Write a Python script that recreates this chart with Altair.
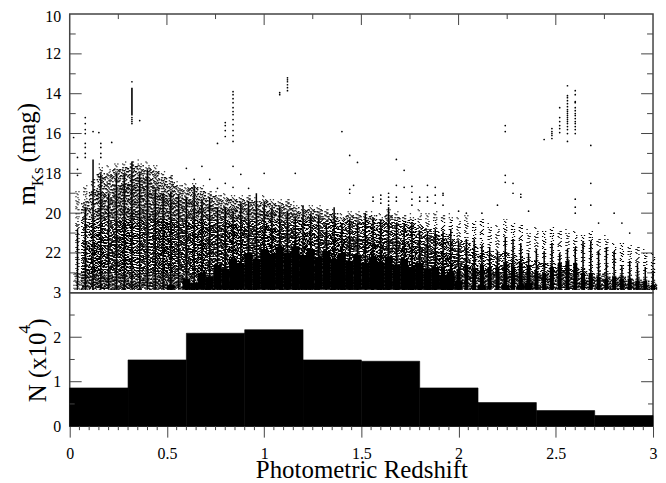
import altair as alt
import pandas as pd

# Photometric-redshift columns (redshifts fall on a discrete grid)
col_z = [round(0.04 * k, 2) for k in range(1, 76)]
haze_top = [18.9,18.6,18.3,17.5,17.6,17.5,17.4,17.4,17.3,17.4,
            17.6,17.9,18.1,18.4,18.5,18.5,18.6,18.9,18.9,19.0,
            19.1,19.1,19.1,19.2,19.1,19.3,19.3,19.3,19.4,19.6,
            19.6,19.6,19.8,19.8,20.0,19.9,19.9,19.9,19.9,20.0,
            19.8,19.9,20.1,20.0,19.8,20.0,19.9,20.1,20.0,20.2,
            20.1,20.4,20.3,20.5,20.6,20.3,20.5,20.6,20.8,20.7,
            20.9,20.7,20.9,20.8,20.9,21.1,20.9,21.3,21.1,21.5,
            21.5,21.6,21.7,21.8,22.0]
outer_top = [23.85,19.4,18.8,18.0,18.0,17.8,17.7,17.6,17.6,17.7,
             17.9,18.2,18.4,18.6,18.7,18.7,18.9,19.1,19.1,19.2,
             19.3,19.3,19.3,19.4,19.3,19.5,19.5,19.5,19.7,19.8,
             19.8,19.8,20.0,20.0,20.2,20.1,20.1,20.2,20.1,20.3,
             20.1,20.2,20.4,20.3,20.6,20.8,20.9,21.0,21.1,21.3,
             21.5,21.7,21.9,21.9,22.0,22.0,22.1,22.2,22.4,22.4,
             22.5,22.5,22.6,22.6,22.7,22.9,23.0,23.1,23.0,23.2,
             23.2,23.3,23.3,23.4,23.5]
stem_top = [20.8,19.7,17.3,18.0,19.0,18.0,18.0,17.4,18.0,17.8,
            18.8,19.0,18.9,19.1,19.2,18.6,19.3,19.2,19.7,19.7,
            19.9,19.5,19.4,19.0,19.4,19.7,19.7,19.9,20.2,19.6,
            20.0,20.1,20.6,19.7,20.6,20.3,20.5,20.0,20.2,20.3,
            19.7,20.5,20.5,20.5,20.9,20.9,20.8,20.9,20.8,21.4,
            21.3,21.3,21.6,21.7,21.9,21.2,21.3,21.5,22.0,21.8,
            21.9,21.5,22.0,21.8,21.7,21.4,21.4,21.9,21.7,21.9,
            22.6,22.4,22.5,22.7,22.9]
dense_top = [23.0,21.4,20.4,19.0,19.2,18.8,18.5,18.3,18.2,18.2,
             18.6,18.9,19.0,19.2,19.3,19.4,19.5,19.6,19.7,19.7,
             19.8,19.8,19.9,19.8,19.9,20.0,20.0,20.1,20.0,20.2,
             20.2,20.3,20.4,20.3,20.5,20.4,20.5,20.4,20.6,20.5,
             20.5,20.6,20.8,20.7,20.9,21.1,21.1,21.3,21.4,21.6,
             21.8,21.9,22.0,22.1,22.2,22.0,22.2,22.2,22.4,22.4,
             22.5,22.4,22.5,22.4,22.5,22.8,22.7,22.9,22.8,23.0,
             23.0,23.1,23.2,23.3,23.4]
outer_dense = dense_top[:50] + [22.4,22.6,22.7,22.8,22.9,22.6,22.8,22.9,23.0,23.0,
             23.1,22.9,22.9,22.8,23.0,23.5,23.3,23.5,23.3,23.5,
             23.5,23.5,23.6,23.6,23.7]
deep_top = [23.85,22.8,21.5,21.0,21.3,20.8,20.4,20.0,20.0,20.0,
            20.0,20.3,20.3,20.5,20.4,20.6,20.5,20.6,20.5,20.6,
            20.6,20.7,20.6,20.7,20.6,20.8,20.8,20.9,20.8,21.0,
            21.0,21.1,21.2,21.1,21.3,21.2,21.3,21.2,21.4,21.4,
            21.4,21.5,21.6,21.5,21.7,21.8,21.9,22.0,22.2,22.4,
            22.7,22.8,22.8,22.9,22.9,22.7,22.9,22.8,22.9,23.1,
            23.2,22.9,22.8,22.8,22.9,23.4,23.3,23.5,23.3,23.4,
            23.4,23.5,23.5,23.5,23.6]
solid_top = [23.85]*12 + [23.6,23.85,23.3,23.5,23.0,23.2,22.6,22.8,
             22.3,22.5,22.0,22.3,21.8,22.1,21.7,22.0,21.7,22.1,
             21.8,22.2,21.9,22.3,22.0,22.4,22.1,22.5,22.2,22.5,
             22.2,22.6,22.3,22.7,22.5,22.8,22.7,23.1,23.0,23.4,
             23.85,23.85,23.6,23.85,23.85,23.6,23.85,23.6,23.5,23.85] + [23.85]*15
core_top = [23.85]*40 + [22.8]*10 + [22.6,22.8,22.6,22.7,22.7,22.5,22.7,22.5,22.6,22.9,
            23.0,22.7,22.5,22.4,22.5,23.0,23.0,23.2,23.3,23.2,
            23.3,23.3,23.4,23.4,23.6]
col_bottom = [23.85] * 75

# Individually legible faint/bright points above the main locus
pt_z = [.02,.04,.04,.04,.08,.08,.08,.08,.08,.08,.08,.08,.12,.15,.16,.16,.16,.16,.216,
        .32,.32,.32,.32,.32,.36,
        .76,.80,.80,.80,.80,.84,.84,.84,.84,.84,.84,.84,.84,.84,.84,.84,.84,
        1.08,1.08,1.12,1.12,1.12,1.12,1.12,1.12,
        .52,.60,.64,.68,.72,.76,.80,.84,.84,.88,.92,1.0,1.16,
        1.40,1.44,1.44,1.46,1.44,1.48,1.68,1.72,1.68,1.72,1.76,1.76,1.84,1.88,1.92,1.92,
        1.56,1.56,1.60,1.60,1.60,1.64,1.64,1.64,1.64,1.68,1.68,1.76,1.76,1.80,1.80,1.84,1.84,1.88,1.88,1.92,
        2.00,2.04,2.12,2.20,2.24,2.24,2.24,2.24,2.28,2.28,2.32,2.32,2.36,
        2.44,2.48,2.48,2.48,2.48,2.48,2.52,2.52,2.52,2.52,2.52,2.52,
        2.56,2.56,2.56,2.56,2.56,2.56,2.56,2.56,2.56,2.56,2.56,2.56,2.56,2.56,2.56,2.56,2.56,2.56,
        2.60,2.60,2.60,2.60,2.60,2.60,2.60,2.60,2.60,2.60,2.60,2.60,2.60,2.60,
        2.68,2.68,2.68,2.72,2.80,2.84,2.88,2.60,2.60,2.60]
pt_m = [16.2,17.2,17.8,18.1,15.2,15.5,15.8,16.0,16.5,16.7,17.0,17.2,15.9,15.95,16.5,16.7,17.0,17.2,16.45,
        13.4,15.2,15.3,15.4,15.5,15.35,
        16.5,15.45,15.6,15.85,16.15,13.9,14.05,14.25,14.45,14.7,14.9,15.05,15.3,15.55,15.85,16.1,16.4,
        13.95,14.05,13.2,13.3,13.4,13.55,13.7,13.85,
        18.2,17.75,18.3,17.65,18.3,18.75,18.5,17.65,18.7,18.05,18.75,18.0,18.0,
        15.9,17.1,18.8,18.6,19.0,17.45,17.3,17.85,18.6,18.7,18.65,18.95,18.6,18.7,19.1,19.0,
        19.2,19.4,19.1,19.3,19.5,19.0,19.2,19.4,19.6,19.2,19.4,19.3,19.6,19.2,19.4,19.2,19.4,19.1,19.5,19.6,
        19.9,20.0,20.0,19.6,15.6,15.9,18.1,18.45,18.5,19.0,19.05,19.2,19.9,
        16.3,15.75,15.9,16.0,16.1,16.25,14.7,15.2,15.4,15.6,15.75,15.95,
        13.6,14.1,14.2,14.35,14.5,14.65,14.8,14.9,15.0,15.1,15.2,15.3,15.4,15.5,15.65,15.8,16.0,16.4,
        13.85,14.05,14.4,14.45,14.7,14.85,15.0,15.1,15.25,15.4,15.5,15.65,15.8,16.0,
        16.6,18.5,19.6,20.5,20.0,20.5,21.0,19.3,19.7,20.0]
# the one unbroken bright stripe
bright_z = [0.32]
bright_top = [13.7]
bright_bottom = [15.1]

hist_lo = [0,.3,.6,.9,1.2,1.5,1.8,2.1,2.4,2.7]
hist_hi = [.3,.6,.9,1.2,1.5,1.8,2.1,2.4,2.7,3.0]
hist_n = [.86,1.49,2.09,2.17,1.49,1.46,.86,.53,.35,.24]

x_major = [0,.5,1,1.5,2,2.5,3]
x_quarter = [.25,.75,1.25,1.75,2.25,2.75]
x_minor = [round(.05*k,2) for k in range(1,60) if k % 10 != 0]
m_major = [12,14,16,18,20,22]
m_minor = [11,13,15,17,19,21,23]
n_major = [1,2]
n_minor = [.5,1.5,2.5]

W, H1, H2 = 586, 280, 134
FONT = "Liberation Serif"
xs = alt.Scale(domain=[0,3], nice=False, zero=False)
ms = alt.Scale(domain=[10,24], reverse=True, nice=False, zero=False)
ns = alt.Scale(domain=[0,3], nice=False, zero=False)

AX_M = alt.Axis(values=[10,12,14,16,18,20,22], title=None, domain=False, ticks=False, labelFont=FONT, labelFontSize=16,
                labelColor="black", labelPadding=9, grid=False, labelOverlap=False, labelFlush=False,
                labelOffset=alt.expr("datum.value == 10 ? 2 : 0"))
AX_N = alt.Axis(values=[0,1,2,3], title=None, domain=False, ticks=False, labelFont=FONT, labelFontSize=16,
                labelColor="black", labelPadding=9, grid=False, labelOverlap=False, labelFlush=False)
AX_X = alt.Axis(values=x_major, format="~g", title="Photometric Redshift", titleFont=FONT, titleFontSize=25,
                titleFontWeight="normal", titleColor="black", titlePadding=-3, domain=False, tickSize=11, tickColor="#444",
                labelFont=FONT, labelFontSize=16, labelColor="black", labelPadding=8, grid=False, labelFlush=False)
X = alt.X("z:Q", scale=xs, axis=None)
XL = alt.X("z:Q", scale=xs, axis=AX_X)

SPARSE = {"a":[1,2,1,6,1,3,1,2,1,7], "b":[1,4,1,2,1,3,1,8,1,2], "c":[1,5,1,1,1,4,1,3],
          "d":[1,3,1,5,1,2,1,7,1,1], "e":[1,2,1,4,1,8,1,2,1,3]}
MEDIUM = {"a":[2,2,1,3,2,1,1,4,1,2], "b":[1,3,2,1,1,2,2,5,1,1], "c":[2,1,1,4,2,2,1,2],
          "d":[1,2,2,3,1,1,2,4,1,2], "e":[1,1,2,2,1,4,2,2,1,3]}
DENSE = {"a":[3,1,2,1,1,1,4,2,2,1], "b":[3,1,1,1,2,1,1,2,4,1], "c":[1,1,3,1,2,1,1,1],
         "d":[2,1,2,2,1,1,4,1], "e":[2,1,1,1,3,1,1,2,3,1]}
DEEP = {"a":[6,1,9,1,5,1,10,1], "b":[9,1,4,1,7,1,6,1], "c":[5,1,11,1,6,1,7,1],
        "d":[8,1,5,1,12,1,4,1], "e":[7,1,9,1,4,1,8,1]}
keys = list(SPARSE)
OFFSETS = [-3.5,-2.5,-1.5,-.5,.5,1.5,2.5,3.5]

def cols_for(i):
    return pd.DataFrame(dict(z=col_z, haze=haze_top, outer=outer_top, stem=stem_top, dense=dense_top,
                             odense=outer_dense, deep=deep_top,
                             solid=solid_top, core=core_top, bottom=col_bottom,
                             g=[keys[(k*(2 if i % 2 else 3) + i) % 5] for k in range(75)]))

Y = lambda f: alt.Y(f + ":Q", scale=ms, axis=AX_M)
Y2 = alt.Y2("bottom:Q")

def dash(tbl):
    return alt.StrokeDash("g:N", scale=alt.Scale(domain=keys, range=[tbl[k] for k in keys]), legend=None)

layers = []
for i, dx in enumerate(OFFSETS):
    base = alt.Chart(cols_for(i))
    rule = dict(strokeWidth=1.3, color="black", xOffset=dx, strokeDashOffset=2 + i * 3)
    layers.append(base.mark_rule(**rule).encode(x=X, y=Y("haze" if abs(dx) < 2 else "outer"), y2=Y2, strokeDash=dash(SPARSE)))
    layers.append(base.mark_rule(**rule).encode(x=X, y=Y("outer"), y2=Y2, strokeDash=dash(MEDIUM)))
    layers.append(base.mark_rule(**rule).encode(x=X, y=Y("dense" if abs(dx) < 2 else "odense"), y2=Y2, strokeDash=dash(DENSE)))
    layers.append(base.mark_rule(**rule).encode(x=X, y=Y("deep"), y2=Y2, strokeDash=dash(DEEP)))
base = alt.Chart(cols_for(0))
layers.append(base.mark_rule(strokeWidth=1.5, color="black").encode(x=X, y=Y("stem"), y2=Y2))
layers.append(base.mark_rule(strokeWidth=4, color="black").encode(x=X, y=Y("core"), y2=Y2))
layers.append(base.mark_rule(strokeWidth=8, color="black").encode(x=X, y=Y("solid"), y2=Y2))

pts = alt.Chart(pd.DataFrame(dict(z=pt_z, m=pt_m))).mark_circle(size=3, color="black", opacity=1).encode(x=X, y=Y("m"))
bright = alt.Chart(pd.DataFrame(dict(z=bright_z, a=bright_top, b=bright_bottom))).mark_rule(strokeWidth=1.6, color="black").encode(
    x=X, y=Y("a"), y2=alt.Y2("b:Q"))

TICK = "#444"
def xticks(vals, a, b, xenc):
    return alt.Chart(pd.DataFrame(dict(z=vals))).mark_rule(color=TICK, strokeWidth=1).encode(x=xenc, y=alt.value(a), y2=alt.value(b))
def yticks(vals, scale, ax, a, b):
    return alt.Chart(pd.DataFrame(dict(v=vals))).mark_rule(color=TICK, strokeWidth=1).encode(
        y=alt.Y("v:Q", scale=scale, axis=ax), x=alt.value(a), x2=alt.value(b))
def label(t, x, y, size):
    return alt.Chart(pd.DataFrame(dict(t=[t]))).mark_text(angle=270, align="left", baseline="alphabetic",
        font=FONT, fontSize=size, color="black").encode(text="t:N", x=alt.value(x), y=alt.value(y))

upper = alt.layer(
    *layers, pts, bright,
    xticks(x_major[1:-1], 0, 11, X), xticks(x_quarter, 0, 5, X),
    yticks(m_major, ms, AX_M, 0, 12), yticks(m_minor, ms, AX_M, 0, 6),
    yticks(m_major, ms, AX_M, W-12, W), yticks(m_minor, ms, AX_M, W-6, W),
    label("m", -35, 192, 26), label("Ks", -27, 173, 17), label("(mag)", -35, 149, 25),
).properties(width=W, height=H1)

hist = alt.Chart(pd.DataFrame(dict(z=hist_lo, z2=hist_hi, n=hist_n))).mark_rect(color="black", stroke="black", strokeWidth=.6).encode(
    x=XL, x2="z2:Q",
    y=alt.Y("n:Q", scale=ns, axis=AX_N),
    y2=alt.datum(0),
)
lower = alt.layer(
    hist,
    xticks(x_minor, H2, H2+4, XL),
    yticks(n_major, ns, AX_N, 0, 12), yticks(n_minor, ns, AX_N, 0, 5),
    yticks(n_major, ns, AX_N, W-12, W), yticks(n_minor, ns, AX_N, W-5, W),
    label("N (x10", -24, 110, 25), label("4", -40, 41, 17), label(")", -24, 34, 25),
).properties(width=W, height=H2)

chart = alt.vconcat(upper, lower, spacing=0, bounds="flush", padding={"left":5,"top":-2,"right":0,"bottom":0}).resolve_scale(
    x="independent", y="independent", strokeDash="independent").configure_view(stroke="#444", strokeWidth=1.5).configure_concat(spacing=0)

chart.save("out.html", embed_options={"renderer": "svg", "actions": False})
